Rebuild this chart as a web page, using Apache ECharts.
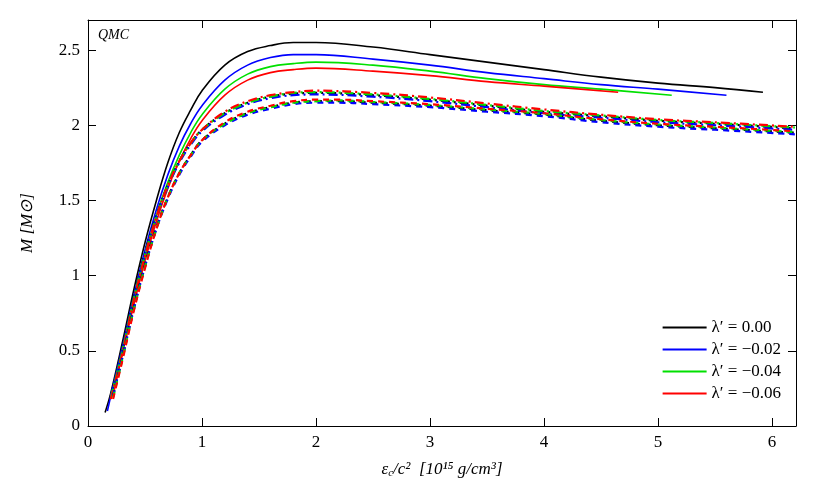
<!DOCTYPE html>
<html><head><meta charset="utf-8">
<script src="https://cdn.jsdelivr.net/npm/echarts@6/dist/echarts.min.js"></script>
<style>body{margin:0;background:#fff}#main{width:830px;height:497px}</style>
</head><body><div id="main"></div>
<script>
// solid curves, [epsilon, M]
var solid00 = [[0.15,0.09],[0.2,0.22],[0.3,0.55],[0.4,0.9],[0.5,1.22],[0.6,1.5],[0.7,1.75],[0.8,1.95],[0.9,2.1],[1.0,2.23],[1.2,2.4],[1.4,2.49],[1.6,2.53],[1.8,2.55],[2.0,2.55],[2.5,2.52],[3,2.47],[3.5,2.42],[4,2.37],[4.5,2.32],[5,2.28],[5.5,2.25],[5.92,2.22]];
var solid02 = [[0.17,0.1],[0.2,0.2],[0.3,0.52],[0.4,0.86],[0.5,1.17],[0.6,1.44],[0.7,1.67],[0.8,1.86],[0.9,2.01],[1.0,2.13],[1.2,2.3],[1.4,2.4],[1.6,2.45],[1.8,2.47],[2.0,2.47],[2.5,2.44],[3,2.4],[3.5,2.35],[4,2.31],[4.5,2.27],[5,2.24],[5.6,2.2]];
var solid04 = [[0.2,0.18],[0.3,0.5],[0.4,0.83],[0.5,1.13],[0.6,1.4],[0.7,1.62],[0.8,1.8],[0.9,1.95],[1.0,2.07],[1.2,2.24],[1.4,2.34],[1.6,2.39],[1.8,2.41],[2.0,2.42],[2.5,2.4],[3,2.36],[3.5,2.31],[4,2.27],[4.5,2.24],[5.12,2.2]];
var solid06 = [[0.22,0.2],[0.3,0.48],[0.4,0.8],[0.5,1.1],[0.6,1.36],[0.7,1.58],[0.8,1.76],[0.9,1.91],[1.0,2.03],[1.2,2.2],[1.4,2.3],[1.6,2.35],[1.8,2.37],[2.0,2.38],[2.5,2.36],[3,2.33],[3.5,2.29],[4,2.26],[4.65,2.22]];

// dash-dot curves
var ddX = [0.2,0.3,0.4,0.5,0.6,0.7,0.8,0.9,1.0,1.2,1.4,1.6,1.8,2.0,2.5,3,3.5,4,4.5,5,5.5,6.2];
var dd00 = [0.2,0.5,0.85,1.15,1.4,1.6,1.76,1.88,1.97,2.08,2.15,2.19,2.21,2.215,2.2,2.17,2.13,2.09,2.06,2.03,2.01,1.98];
var dd02 = [0.2,0.5,0.84,1.14,1.39,1.59,1.75,1.87,1.96,2.07,2.14,2.18,2.2,2.205,2.19,2.16,2.12,2.08,2.05,2.02,2.0,1.97];
var dd04 = [0.19,0.49,0.84,1.14,1.39,1.6,1.76,1.88,1.97,2.08,2.15,2.19,2.215,2.22,2.205,2.175,2.135,2.095,2.065,2.035,2.015,1.985];
var dd06 = [0.18,0.48,0.83,1.13,1.39,1.6,1.76,1.88,1.97,2.09,2.16,2.2,2.22,2.23,2.215,2.185,2.145,2.105,2.07,2.04,2.02,1.99];

// dashed curves
var dsX = [0.22,0.3,0.4,0.5,0.6,0.7,0.8,0.9,1.0,1.2,1.4,1.6,1.8,2.0,2.2,2.5,3,3.5,4,4.5,5,5.5,6.2];
var ds00 = [0.2,0.45,0.78,1.07,1.32,1.52,1.68,1.8,1.9,2.01,2.08,2.12,2.15,2.16,2.16,2.15,2.13,2.1,2.07,2.03,2.0,1.98,1.95];
var ds02 = [0.2,0.45,0.77,1.06,1.31,1.51,1.67,1.79,1.89,2.0,2.07,2.11,2.14,2.15,2.15,2.14,2.12,2.09,2.06,2.02,1.99,1.97,1.94];
var ds04 = [0.19,0.44,0.77,1.06,1.31,1.52,1.68,1.8,1.9,2.01,2.08,2.12,2.15,2.16,2.165,2.155,2.135,2.105,2.075,2.035,2.005,1.985,1.955];
var ds06 = [0.18,0.43,0.76,1.05,1.31,1.52,1.68,1.8,1.9,2.02,2.09,2.13,2.16,2.17,2.17,2.16,2.14,2.11,2.08,2.04,2.01,1.99,1.96];

var legendNames = ["λ′ = 0.00", "λ′ = −0.02", "λ′ = −0.04", "λ′ = −0.06"];
var colors = ['#000000', '#0000ff', '#00e000', '#ff0000'];

function zip(xs, ys) { return xs.map(function (x, i) { return [x, ys[i]]; }); }

var font = 'Liberation Serif';
var series = [];
[solid00, solid02, solid04, solid06].forEach(function (d, i) {
    series.push({ name: legendNames[i], type: 'line', data: d, showSymbol: false, smooth: 0.4,
        color: colors[i], lineStyle: { width: 1.6 } });
});
[dd00, dd02, dd04, dd06].forEach(function (y, i) {
    series.push({ name: 'dd' + i, type: 'line', data: zip(ddX, y), showSymbol: false, smooth: 0.4,
        color: colors[i], lineStyle: { width: 2.2, type: [9, 4, 2, 4] } });
});
[ds00, ds02, ds04, ds06].forEach(function (y, i) {
    series.push({ name: 'ds' + i, type: 'line', data: zip(dsX, y), showSymbol: false, smooth: 0.4,
        color: colors[i], lineStyle: { width: 2.2, type: [6, 5] } });
});

var axisCommon = {
    type: 'value',
    axisLine: { onZero: false, lineStyle: { color: '#000' } },
    axisTick: { inside: true, length: 8, lineStyle: { color: '#000' } },
    splitLine: { show: false }
};

var myChart = echarts.init(document.getElementById('main'));
myChart.setOption({
    animation: false,
    textStyle: { fontFamily: font },
    grid: { left: 88, right: 34, top: 20, bottom: 71 },
    graphic: [{ type: 'text', left: 98, top: 28,
        style: { text: 'QMC', font: 'italic 14px ' + font, fill: '#000' } }],
    legend: {
        data: legendNames, orient: 'vertical', right: 44, bottom: 90,
        itemWidth: 44, itemHeight: 14, itemGap: 5,
        icon: 'path://M0,6H44V8H0Z',
        textStyle: { fontSize: 17, fontFamily: font, color: '#000' }
    },
    xAxis: [Object.assign({}, axisCommon, {
        min: 0, max: 6.21, interval: 1, position: 'bottom',
        name: '{i|ε}{s|c}{i|/c²  [10¹⁵ g/cm³]}', nameLocation: 'middle', nameGap: 34,
        nameTextStyle: { rich: { i: { fontSize: 17, fontFamily: font, fontStyle: 'italic' },
            s: { fontSize: 11, fontFamily: font, fontStyle: 'italic', verticalAlign: 'bottom', padding: [8, 0, 0, 0] } } },
        axisLabel: { fontSize: 17, color: '#000', showMaxLabel: false }
    }), Object.assign({}, axisCommon, {
        min: 0, max: 6.21, interval: 1, position: 'top', axisLabel: { show: false }
    })],
    yAxis: [Object.assign({}, axisCommon, {
        min: 0, max: 2.7, interval: 0.5, position: 'left',
        name: 'M [M⊙]', nameLocation: 'middle', nameGap: 52,
        nameTextStyle: { fontSize: 17, fontStyle: 'italic', color: '#000' },
        axisLabel: { fontSize: 17, color: '#000', showMaxLabel: false }
    }), Object.assign({}, axisCommon, {
        min: 0, max: 2.7, interval: 0.5, position: 'right', axisLabel: { show: false }
    })],
    series: series
});
</script></body></html>
